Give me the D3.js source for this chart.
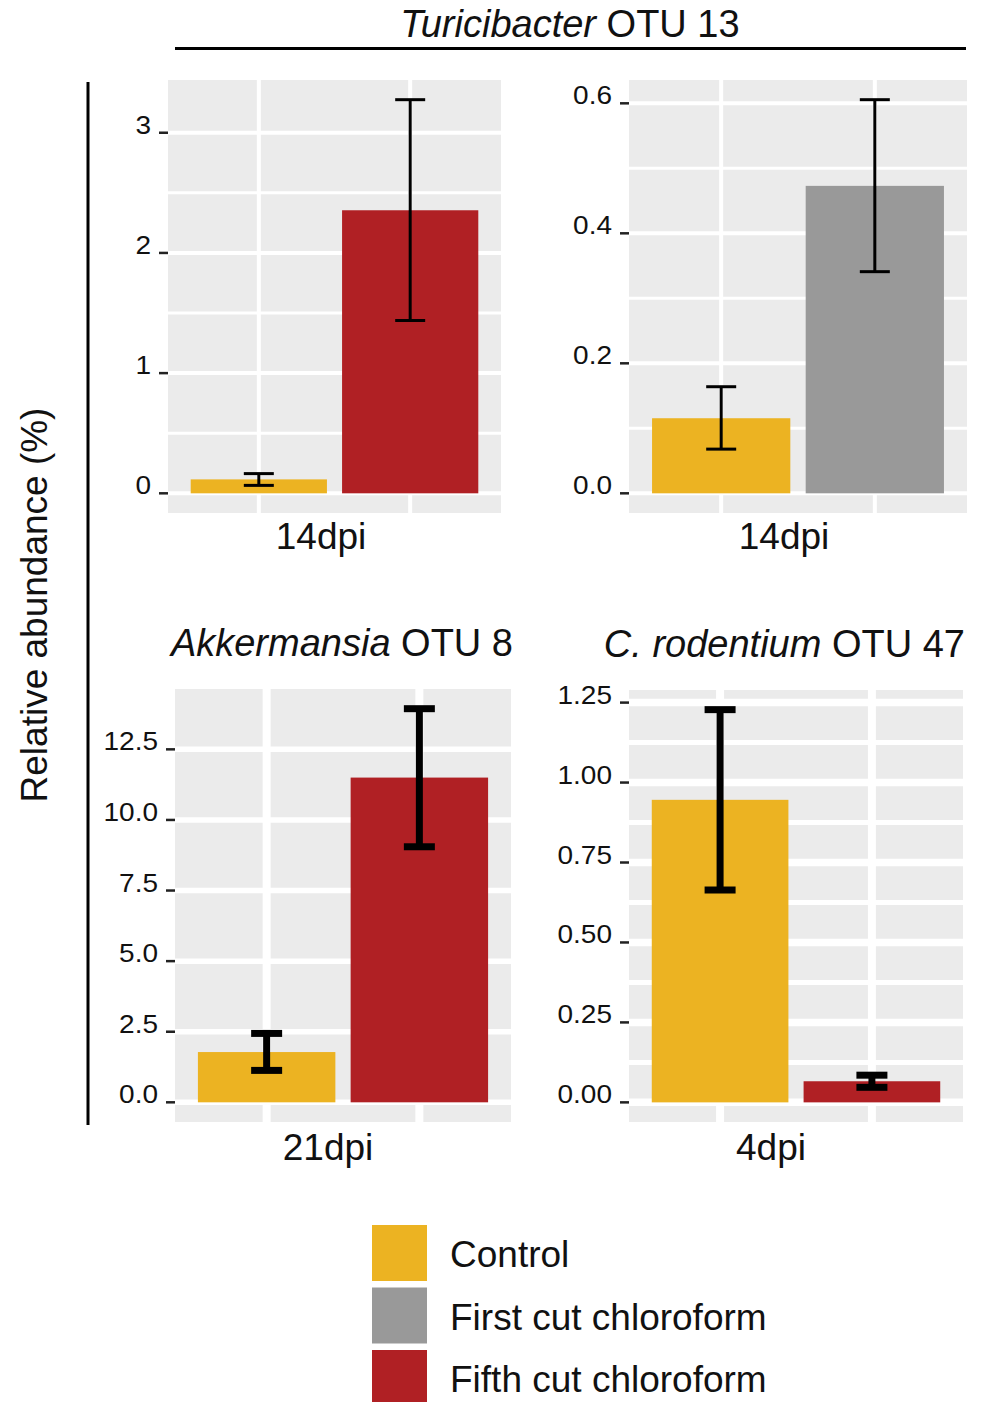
<!DOCTYPE html>
<html>
<head>
<meta charset="utf-8">
<script src="https://cdn.jsdelivr.net/npm/d3@7"></script>
<style>
body { margin: 0; background: #fff; }
svg { display: block; }
text { font-family: "Liberation Sans", Arial, Helvetica, sans-serif; fill: #111; }
</style>
</head>
<body>
<div id="chart"></div>
<script>
'use strict';

// Treatment groups and their fills
var groups = ['Control', 'First cut chloroform', 'Fifth cut chloroform'];
var groupColors = ['#ECB322', '#999999', '#B02024'];

// One entry per panel: top-left, top-right, bottom-left, bottom-right
var timepoints = ['14dpi', '14dpi', '21dpi', '4dpi'];
var panelGroups = [[0, 2], [0, 1], [0, 2], [0, 2]];
var means = [[0.116, 2.355], [0.1155, 0.473], [1.78, 11.5], [0.946, 0.066]];
var errLow = [[0.066, 1.438], [0.068, 0.341], [1.13, 9.05], [0.664, 0.047]];
var errHigh = [[0.164, 3.275], [0.164, 0.6056], [2.44, 13.94], [1.228, 0.085]];
var majorTicks = [[0, 1, 2, 3], [0, 0.2, 0.4, 0.6], [0, 2.5, 5, 7.5, 10, 12.5], [0, 0.25, 0.5, 0.75, 1, 1.25]];
var tickLabels = [
	['0', '1', '2', '3'],
	['0.0', '0.2', '0.4', '0.6'],
	['0.0', '2.5', '5.0', '7.5', '10.0', '12.5'],
	['0.00', '0.25', '0.50', '0.75', '1.00', '1.25']
];
var titleItalic = ['', '', 'Akkermansia', 'C. rodentium'];
var titleRest = ['', '', ' OTU 8', ' OTU 47'];
var sharedTitle = ['Turicibacter', ' OTU 13'];
var yLabel = 'Relative abundance (%)';

// Panel boxes (pixels) and line weights
var layout = [
	{x: 168, y: 80, w: 333, h: 433, labelX: 321, labelY: 549, major: 4, minor: 3, vgrid: 4, err: 3, cap: 30, showMinor: true},
	{x: 629, y: 80, w: 338, h: 433, labelX: 784, labelY: 549, major: 4, minor: 3, vgrid: 4, err: 3, cap: 30, showMinor: true},
	{x: 175, y: 689, w: 336, h: 433, labelX: 328, labelY: 1160, major: 5.5, minor: 0, vgrid: 8, err: 7, cap: 31, showMinor: false},
	{x: 629, y: 690, w: 334, h: 432, labelX: 771, labelY: 1160, major: 7.5, minor: 5, vgrid: 8, err: 7, cap: 31, showMinor: true}
];

var width = 984, height = 1402;

var svg = d3.select('#chart').append('svg')
	.attr('width', width)
	.attr('height', height);

layout.forEach(function(p, i) {
	var top = d3.max(errHigh[i]);
	var yScale = d3.scaleLinear()
		.domain([-0.05 * top, 1.05 * top])
		.range([p.y + p.h, p.y]);
	var xScale = d3.scaleBand()
		.domain([0, 1])
		.range([p.x, p.x + p.w])
		.paddingInner(0.1)
		.paddingOuter(0.15);

	var g = svg.append('g').attr('class', 'panel');

	// background
	g.append('rect')
		.attr('x', p.x).attr('y', p.y)
		.attr('width', p.w).attr('height', p.h)
		.attr('fill', '#EBEBEB');

	// minor grid halfway between major ticks
	var ticks = majorTicks[i];
	var step = ticks[1] - ticks[0];
	var minors = ticks.map(function(t) { return t + step / 2; })
		.filter(function(t) { return t < yScale.domain()[1]; });
	if (p.showMinor) {
		g.selectAll('.minor').data(minors).enter().append('line')
			.attr('class', 'minor')
			.attr('x1', p.x).attr('x2', p.x + p.w)
			.attr('y1', yScale).attr('y2', yScale)
			.attr('stroke', '#fff').attr('stroke-width', p.minor);
	}
	g.selectAll('.major').data(ticks).enter().append('line')
		.attr('class', 'major')
		.attr('x1', p.x).attr('x2', p.x + p.w)
		.attr('y1', yScale).attr('y2', yScale)
		.attr('stroke', '#fff').attr('stroke-width', p.major);
	g.selectAll('.vgrid').data([0, 1]).enter().append('line')
		.attr('class', 'vgrid')
		.attr('x1', function(d) { return xScale(d) + xScale.bandwidth() / 2; })
		.attr('x2', function(d) { return xScale(d) + xScale.bandwidth() / 2; })
		.attr('y1', p.y).attr('y2', p.y + p.h)
		.attr('stroke', '#fff').attr('stroke-width', p.vgrid);

	// y ticks and labels
	g.selectAll('.tick').data(ticks).enter().append('line')
		.attr('class', 'tick')
		.attr('x1', p.x - 9).attr('x2', p.x)
		.attr('y1', yScale).attr('y2', yScale)
		.attr('stroke', '#222').attr('stroke-width', 2.5);
	g.selectAll('.ticklabel').data(ticks).enter().append('text')
		.attr('class', 'ticklabel')
		.attr('transform', function(d) { return 'translate(' + (p.x - 17) + ',' + (yScale(d) + 1) + ') scale(1.12,1)'; })
		.attr('text-anchor', 'end')
		.style('font-size', '25px')
		.text(function(d, j) { return tickLabels[i][j]; });

	// bars
	var bars = [0, 1];
	g.selectAll('.bar').data(bars).enter().append('rect')
		.attr('class', 'bar')
		.attr('x', function(d) { return xScale(d); })
		.attr('width', xScale.bandwidth())
		.attr('y', function(d) { return yScale(means[i][d]); })
		.attr('height', function(d) { return yScale(0) - yScale(means[i][d]); })
		.attr('fill', function(d) { return groupColors[panelGroups[i][d]]; });

	// error bars
	var err = g.selectAll('.err').data(bars).enter().append('g')
		.attr('class', 'err')
		.attr('stroke', '#000')
		.attr('stroke-width', p.err);
	err.append('line')
		.attr('x1', function(d) { return xScale(d) + xScale.bandwidth() / 2; })
		.attr('x2', function(d) { return xScale(d) + xScale.bandwidth() / 2; })
		.attr('y1', function(d) { return yScale(errLow[i][d]); })
		.attr('y2', function(d) { return yScale(errHigh[i][d]); });
	[errLow, errHigh].forEach(function(arr) {
		err.append('line')
			.attr('x1', function(d) { return xScale(d) + xScale.bandwidth() / 2 - p.cap / 2; })
			.attr('x2', function(d) { return xScale(d) + xScale.bandwidth() / 2 + p.cap / 2; })
			.attr('y1', function(d) { return yScale(arr[i][d]); })
			.attr('y2', function(d) { return yScale(arr[i][d]); });
	});

	// timepoint label
	g.append('text')
		.attr('x', p.labelX).attr('y', p.labelY)
		.attr('text-anchor', 'middle')
		.style('font-size', '37px')
		.text(timepoints[i]);

	// panel title
	if (titleItalic[i]) {
		var t = g.append('text')
			.attr('x', p.x + p.w + 2).attr('y', p.y - 33)
			.attr('text-anchor', 'end')
			.style('font-size', '38px');
		t.append('tspan').style('font-style', 'italic').text(titleItalic[i]);
		t.append('tspan').text(titleRest[i]);
	}
});

// shared title over the top row
var st = svg.append('text')
	.attr('x', 570).attr('y', 37)
	.attr('text-anchor', 'middle')
	.style('font-size', '38px');
st.append('tspan').style('font-style', 'italic').text(sharedTitle[0]);
st.append('tspan').text(sharedTitle[1]);
svg.append('line')
	.attr('x1', 175).attr('x2', 966)
	.attr('y1', 48.5).attr('y2', 48.5)
	.attr('stroke', '#000').attr('stroke-width', 3);

// shared y axis label and bracket
svg.append('line')
	.attr('x1', 88).attr('x2', 88)
	.attr('y1', 82).attr('y2', 1125)
	.attr('stroke', '#000').attr('stroke-width', 3);
svg.append('text')
	.attr('transform', 'translate(47,605) rotate(-90)')
	.attr('text-anchor', 'middle')
	.style('font-size', '37px')
	.text(yLabel);

// legend
var legend = svg.append('g').attr('class', 'legend')
	.selectAll('g').data(groups).enter().append('g')
	.attr('transform', function(d, i) { return 'translate(372,' + (1225 + i * 62.5) + ')'; });
legend.append('rect')
	.attr('width', 55).attr('height', 56)
	.attr('fill', function(d, i) { return groupColors[i]; });
legend.append('text')
	.attr('x', 78).attr('y', 42)
	.style('font-size', '37px')
	.text(function(d) { return d; });
</script>
</body>
</html>
